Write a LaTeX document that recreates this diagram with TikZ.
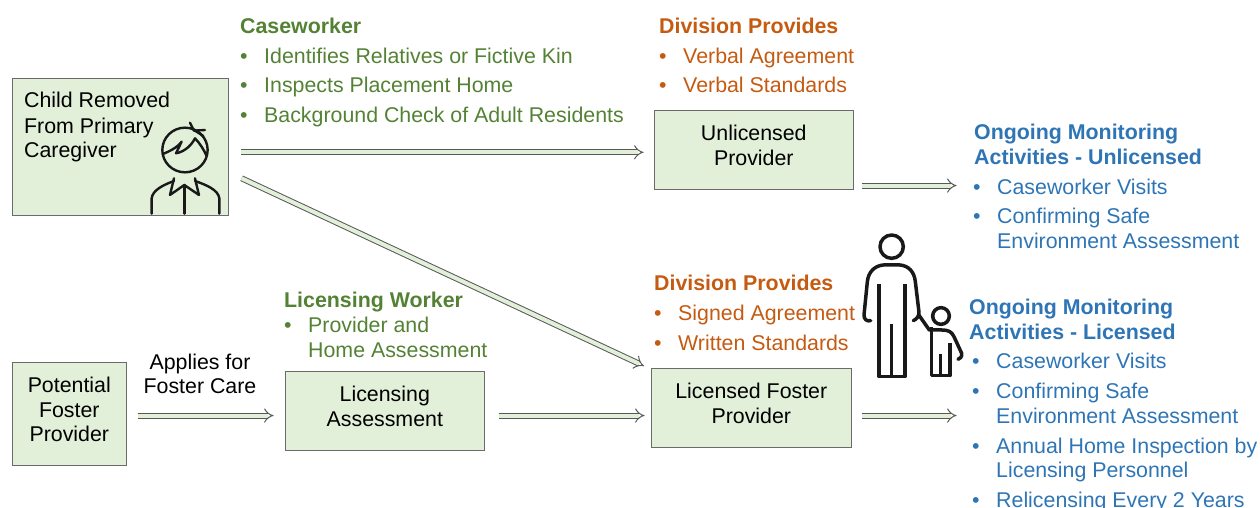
\documentclass[tikz,border=0pt]{standalone}
\usepackage{fontspec}
\setmainfont{Liberation Sans}
\usetikzlibrary{arrows}
\definecolor{boxfill}{HTML}{E2EFD9}
\definecolor{boxline}{HTML}{6B6B6B}
\definecolor{cgreen}{HTML}{548235}
\definecolor{corange}{HTML}{C55A11}
\definecolor{cblue}{HTML}{2E75B6}
\newcommand{\sz}{\fontsize{21.35}{24.5}\selectfont}
\newcommand{\upt}[1]{\begin{tabular}{@{}c@{}}#1\\[3.6pt]\end{tabular}}
\tikzset{
  box/.style={draw=boxline,fill=boxfill,line width=1.1pt,inner sep=0pt,anchor=north west,align=center,text=black,font=\sz},
  conn/.style={draw=black!65,line width=1pt,double=boxfill,double distance=4pt,-implies},
  txt/.style={anchor=base west,inner sep=0pt,font=\sz},
  head/.style={txt,font=\sz\bfseries},
  icon/.style={draw=black!90,line cap=round,line join=round},
}
% \item text: name, colour, bullet x, text x, baseline y, text
\newcommand{\bulitem}[6]{%
  \node[txt,text=#2] (#1b) at (#3,#5) {•};
  \node[txt,text=#2] (#1) at (#4,#5) {#6};}
\begin{document}
\begin{tikzpicture}[x=1pt,y=-1pt]
\useasboundingbox (0,0) rectangle (1260,508);
\clip (0,0) rectangle (1260,508);
% boxes
\node[box,minimum width=215.5pt,minimum height=136.5pt] (child) at (12,78) {};
\node[box,minimum width=198.5pt,minimum height=79pt] (unlic) at (654,110) {\upt{Unlicensed\\Provider}};
\node[box,minimum width=199.5pt,minimum height=79pt] (lic) at (651,368) {\upt{Licensed Foster\\Provider}};
\node[box,minimum width=198.5pt,minimum height=79pt] (assess) at (285,371) {\upt{Licensing\\Assessment}};
\node[box,minimum width=113.5pt,minimum height=103pt] (pot) at (12,362) {\upt{Potential\\Foster\\Provider}};
% child box text
\node[txt] (c1) at (24,108) {Child Removed};
\node[txt] (c2) at (24,133) {From Primary};
\node[txt] (c3) at (24,157.5) {Caregiver};
% connector label
\node[inner sep=0pt,align=center,font=\sz] (applies) at (200,374) {Applies for\\Foster Care};
% connectors
\draw[conn] ([xshift=12pt,yshift=-5.5pt]child.east) -- ++(403,0) coordinate (unlicin);
\draw[conn] ([xshift=13pt,yshift=-31.5pt]child.east) -- ([xshift=-7pt,yshift=2pt]lic.north west);
\draw[conn] ([xshift=11pt,yshift=-1.5pt]pot.east) -- ++(136,0) coordinate (assessin);
\draw[conn] ([xshift=14pt,yshift=-4.5pt]assess.east) -- ++(146,0) coordinate (licin);
\draw[conn] ([xshift=8pt,yshift=-35.5pt]unlic.east) -- ++(95,0) coordinate (unlicend);
\draw[conn] ([xshift=10pt,yshift=-7.5pt]lic.east) -- ++(95,0) coordinate (licend);
% caseworker
\node[head,text=cgreen] (hcase) at (240,33.5) {Caseworker};
\bulitem{ca}{cgreen}{240}{264}{63.5}{Identifies Relatives or Fictive Kin}
\bulitem{cb}{cgreen}{240}{264}{93}{Inspects Placement Home}
\bulitem{cc}{cgreen}{240}{264}{122}{Background Check of Adult Residents}
% division 1
\node[head,text=corange] (hdiv) at (659,33.5) {Division Provides};
\bulitem{da}{corange}{659}{683}{63.5}{Verbal Agreement}
\bulitem{db}{corange}{659}{683}{93}{Verbal Standards}
% division 2
\node[head,text=corange] (hdivb) at (654,290) {Division Provides};
\bulitem{ea}{corange}{654}{678}{320}{Signed Agreement}
\bulitem{eb}{corange}{654}{678}{350}{Written Standards}
% licensing worker
\node[head,text=cgreen] (hlw) at (284,307) {Licensing Worker};
\bulitem{la}{cgreen}{284}{308}{332}{Provider and}
\node[txt,text=cgreen] (lb) at (308,357) {Home Assessment};
% monitoring unlicensed
\node[head,text=cblue] (hmu) at (974,139.5) {Ongoing Monitoring};
\node[head,text=cblue] (hmub) at (974,164) {Activities - Unlicensed};
\bulitem{ma}{cblue}{973}{997}{194}{Caseworker Visits}
\bulitem{mb}{cblue}{973}{997}{223}{Confirming Safe}
\node[txt,text=cblue] (mc) at (997,248) {Environment Assessment};
% monitoring licensed
\node[head,text=cblue] (hml) at (969,314) {Ongoing Monitoring};
\node[head,text=cblue] (hmlb) at (969,339) {Activities - Licensed};
\bulitem{na}{cblue}{972}{996}{368}{Caseworker Visits}
\bulitem{nb}{cblue}{972}{996}{398}{Confirming Safe}
\node[txt,text=cblue] (nc) at (996,423) {Environment Assessment};
\bulitem{nd}{cblue}{972}{996}{453}{Annual Home Inspection by}
\node[txt,text=cblue] (ne) at (996,477) {Licensing Personnel};
\bulitem{nf}{cblue}{972}{996}{507}{Relicensing Every 2 Years}
% child icon
\begin{scope}[shift={(0,70)},x=0.3333pt,y=-0.3333pt,icon,line width=2.4pt]
\draw (555,240) ellipse [x radius=68,y radius=67];
\draw (489,252) .. controls (505,245) and (530,235) .. (545,215) -- (528,250) .. controls (555,245) and (575,225) .. (585,205) .. controls (600,220) and (612,240) .. (620,258);
\draw (570,158) -- (582,182);
\draw (582,182) -- (615,180);
\draw (585,182) -- (610,198);
\draw (455,431) -- (455,385) .. controls (458,360) and (490,345) .. (522,333);
\draw (522,325) -- (510,375) -- (553,345) -- (597,375) -- (585,325);
\draw (585,333) .. controls (620,345) and (655,360) .. (658,385) -- (658,431);
\draw (553,345) -- (553,431);
\end{scope}
% adult and child icon
\begin{scope}[shift={(850,225)},x=0.3333pt,y=-0.3333pt,icon,line width=3.5pt]
\draw (125,65) circle [radius=35];
\draw (62,287) .. controls (50,290) and (42,283) .. (42,270) -- (52,170) .. controls (55,140) and (75,122) .. (100,120) -- (150,120) .. controls (175,122) and (193,140) .. (196,170) -- (207,262) .. controls (207,275) and (200,282) .. (190,287);
\draw[line cap=butt] (87,176) -- (87,455) -- (165,455) -- (165,176);
\draw[line cap=butt] (125,298) -- (125,455);
\draw (273,273) circle [radius=25];
\draw (205,268) -- (238,315) -- (275,315) .. controls (295,315) and (305,320) .. (312,335) -- (335,385) .. controls (337,395) and (330,402) .. (324,403);
\draw[line cap=butt] (245,307) -- (245,452) -- (300,452) -- (300,355);
\draw[line cap=butt] (272,388) -- (272,452);
\end{scope}
\end{tikzpicture}
\end{document}
